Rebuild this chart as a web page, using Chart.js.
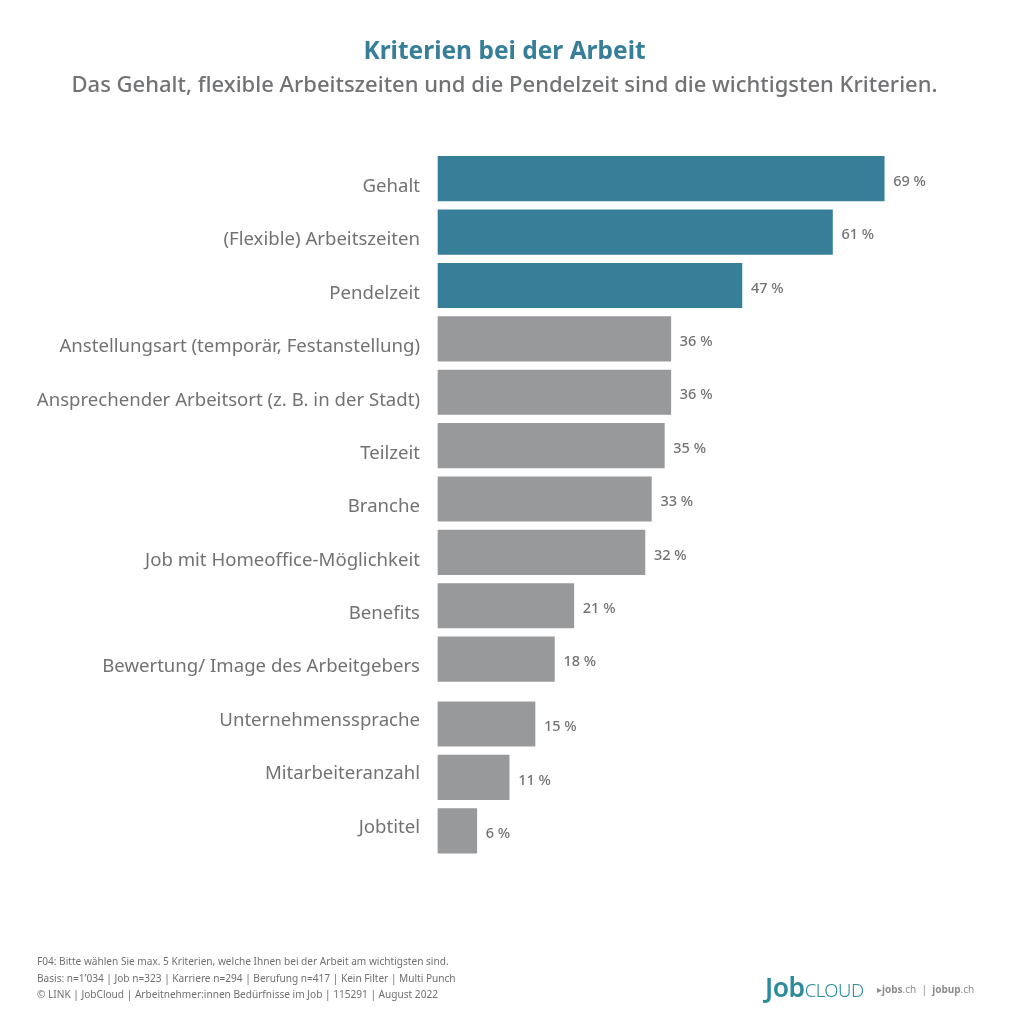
<!DOCTYPE html>
<html lang="de"><head><meta charset="utf-8">
<script src="https://cdn.jsdelivr.net/npm/chart.js@4"></script>
<style>
html,body{margin:0;padding:0;background:#fff;width:1009px;height:1024px;overflow:hidden}
#wrap{position:relative;width:1009px;height:1024px}
canvas{position:absolute;left:0;top:0}
.t{position:absolute;white-space:nowrap;font-family:"Noto Sans",sans-serif}
#foot{left:37px;top:953px;font-size:10.1px;line-height:16.5px;color:#6f7072}
#logo{left:765px;top:971px;font-size:26px;line-height:32px;color:#2a8c98;letter-spacing:-.5px}
#logo b{font-weight:600;font-size:26.5px}#logo span{font-weight:300;font-size:18.5px}
#brands{left:877px;top:982px;font-size:10px;line-height:14px;color:#8b8c8e}
</style></head><body><div id="wrap">
<canvas id="c" width="1009" height="1024"></canvas>
<div class="t" id="foot">F04: Bitte wählen Sie max. 5 Kriterien, welche Ihnen bei der Arbeit am wichtigsten sind.<br>Basis: n=1’034 | Job n=323 | Karriere n=294 | Berufung n=417 | Kein Filter | Multi Punch<br>© LINK | JobCloud | Arbeitnehmer:innen Bedürfnisse im Job | 115291 | August 2022</div>
<div class="t" id="logo"><b>Job</b><span>CLOUD</span></div>
<div class="t" id="brands">▸<b>jobs</b>.ch &nbsp;|&nbsp; <b>jobup</b>.ch</div>
</div>
<script>
const categories = ["Gehalt","(Flexible) Arbeitszeiten","Pendelzeit","Anstellungsart (temporär, Festanstellung)","Ansprechender Arbeitsort (z. B. in der Stadt)","Teilzeit","Branche","Job mit Homeoffice-Möglichkeit","Benefits","Bewertung/ Image des Arbeitgebers","Unternehmenssprache","Mitarbeiteranzahl","Jobtitel"];
const values = [69,61,47,36,36,35,33,32,21,18,15,11,6];
const highlightCount = 3;
const titleText = "Kriterien bei der Arbeit";
const subtitleText = "Das Gehalt, flexible Arbeitszeiten und die Pendelzeit sind die wichtigsten Kriterien.";
const TEAL="#377f98", GRAY="#98999b", TEXT="#717274", FONT='"Noto Sans", sans-serif';

// Category axis whose bars sit slightly off the label rows, with an extra gap before the last group
class GapCategory extends Chart.CategoryScale {
  getPixelForValue(v, i){
    const base = super.getPixelForValue(v, i);
    const idx = typeof i === "number" ? i : v;
    return base + (idx >= 10 ? 3.5 : -8);
  }
  getPixelForTick(i){
    const t = this.ticks[i];
    return t ? super.getPixelForValue(t.value) : null;
  }
}
GapCategory.id = "gapcat";
GapCategory.defaults = Chart.CategoryScale.defaults;
Chart.register(GapCategory);

const valueLabels = {
  id:"valueLabels",
  afterDatasetsDraw(chart){
    const {ctx} = chart, meta = chart.getDatasetMeta(0);
    ctx.save();
    ctx.font = '500 14.5px '+FONT; ctx.fillStyle = TEXT;
    ctx.textAlign = "left"; ctx.textBaseline = "middle";
    meta.data.forEach((el,i)=> ctx.fillText(values[i]+" %", el.x+9, el.y+3));
    ctx.restore();
  }
};

new Chart(document.getElementById("c"),{
  type:"bar",
  data:{labels:categories,datasets:[{data:values,barThickness:44.5,borderWidth:0,clip:false,
    backgroundColor:values.map((_,i)=>i<highlightCount?TEAL:GRAY)}]},
  plugins:[valueLabels],
  options:{
    indexAxis:"y",responsive:false,animation:false,
    layout:{padding:{left:0,right:0,top:0,bottom:170}},
    plugins:{
      legend:{display:false},tooltip:{enabled:false},
      title:{display:true,text:titleText,color:TEAL,font:{family:FONT,size:24.5,weight:"700",lineHeight:1.2},padding:{top:37,bottom:6}},
      subtitle:{display:true,text:subtitleText,color:TEXT,font:{family:FONT,size:22,weight:"500",lineHeight:1.2},padding:{top:0,bottom:61.2}}
    },
    scales:{
      x:{display:false,min:0,max:88.3},
      y:{type:"gapcat",offset:true,grid:{display:false,drawTicks:false},border:{display:false},
        afterFit(s){s.width=438;},
        ticks:{color:TEXT,font:{family:FONT,size:18.6,weight:"400"},padding:18,autoSkip:false}}
    }
  }
});
</script></body></html>
